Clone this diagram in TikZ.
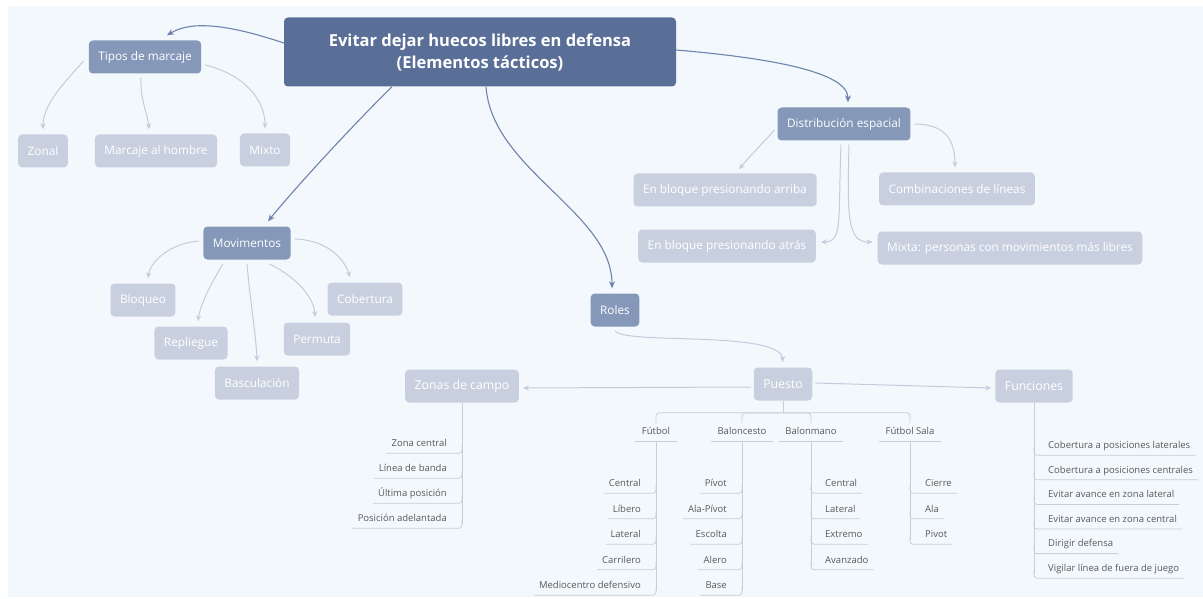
\documentclass[tikz,border=0pt]{standalone}
\usepackage{fontspec}
\setmainfont{Open Sans}
\usetikzlibrary{arrows.meta,calc}
\definecolor{bgc}{HTML}{F3F8FD}
\definecolor{mainc}{HTML}{5A6F98}
\definecolor{subc}{HTML}{8598B9}
\definecolor{itemc}{HTML}{C8D0E0}
\definecolor{linkc}{HTML}{6E84AC}
\definecolor{sublinkc}{HTML}{C4CCDC}
\definecolor{treec}{HTML}{C9CED6}
\definecolor{leaftext}{HTML}{595959}
\begin{document}
\begin{tikzpicture}[x=1pt,y=-1pt,
  topic/.style={fill=mainc,text=white,rounded corners=4pt,minimum width=392pt,minimum height=69pt,align=center,font=\fontsize{16.5}{22}\selectfont\bfseries},
  branch/.style={fill=subc,text=white,rounded corners=4pt,minimum height=33pt,inner xsep=9.5pt,font=\fontsize{11.8}{13}\selectfont},
  item/.style={branch,fill=itemc},
  hub/.style={item,font=\fontsize{12.3}{15}\selectfont},
  leaf/.style={text=leaftext,inner xsep=5pt,inner ysep=4.5pt,text height=7pt,text depth=2pt,font=\fontsize{9.5}{11}\selectfont},
  sport/.style={leaf,inner xsep=6.5pt},
  link/.style={draw=linkc,line width=1.1pt,-{Stealth[length=7pt,width=6pt]}},
  sublink/.style={draw=sublinkc,line width=1pt,-{Stealth[length=6pt,width=5pt]}},
  tree/.style={draw=treec,line width=0.8pt,rounded corners=3pt}]
\useasboundingbox (0,0) rectangle (1203,599);
\fill[bgc] (8,6) rectangle (1203,597);

% central topic
\node[topic] (main) at (480,52) {Evitar dejar huecos libres en defensa\\(Elementos tácticos)};

% main branches
\node[branch] (tipos) at (145,57) {Tipos de marcaje};
\node[branch] (dist) at (844,124) {Distribución espacial};
\node[branch] (mov) at (247,243) {Movimentos};
\node[branch] (roles) at (615,310) {Roles};

% tipos de marcaje
\node[item] (zonal) at (43,151) {Zonal};
\node[item] (hombre) at (156,151) {Marcaje al hombre};
\node[item] (mixto) at (265,150) {Mixto};

% distribucion espacial
\node[item] (arriba) at (725,190) {En bloque presionando arriba};
\node[item] (atras) at (727,246) {En bloque presionando atrás};
\node[item] (lineas) at (957,189) {Combinaciones de líneas};
\node[item] (mixta) at (1010,248) {Mixta: personas con movimientos más libres};

% movimientos
\node[item] (bloq) at (143,300) {Bloqueo};
\node[item] (repl) at (191,343) {Repliegue};
\node[item] (bascu) at (257,383) {Basculación};
\node[item] (perm) at (317,339) {Permuta};
\node[item] (cobe) at (365,299) {Cobertura};

% roles
\node[hub] (puesto) at (783,384) {Puesto};
\node[hub] (zonas) at (462,386) {Zonas de campo};
\node[hub] (func) at (1034,386) {Funciones};

% links from the central topic
\draw[link] ([yshift=9pt]main.west) .. controls (230,25) and (192,20) .. ([xshift=22pt,yshift=5pt]tipos.north);
\draw[link] ([yshift=2pt]main.east) .. controls (770,58) and (848,72) .. ([xshift=4pt,yshift=5pt]dist.north);
\draw[link] ([xshift=-88pt]main.south) .. controls (360,118) and (300,182) .. ([xshift=21pt,yshift=5pt]mov.north);
\draw[link] ([xshift=6pt]main.south) .. controls (492,170) and (612,212) .. ([xshift=-3pt,yshift=5pt]roles.north);

% second level links
\draw[sublink] ([xshift=-5pt,yshift=-4pt]tipos.west) .. controls (62,85) and (43,105) .. ([yshift=5pt]zonal.north);
\draw[sublink] ([xshift=-4pt,yshift=-4pt]tipos.south) .. controls (140,100) and (148,115) .. ([xshift=-7pt,yshift=5pt]hombre.north);
\draw[sublink] ([xshift=4pt,yshift=-8pt]tipos.east) .. controls (245,75) and (265,100) .. ([yshift=5pt]mixto.north);
\draw[sublink] ([xshift=-3pt,yshift=-6pt]dist.west) .. controls (764,142) and (748,158) .. ([xshift=14pt,yshift=4pt]arriba.north);
\draw[sublink] ([xshift=-3pt,yshift=-4pt]dist.south) .. controls (838,220) and (843,242) .. ([xshift=5pt,yshift=4pt]atras.east);
\draw[sublink] ([xshift=5pt,yshift=-4pt]dist.south) .. controls (847,220) and (848,242) .. ([xshift=-5pt,yshift=6pt]mixta.west);
\draw[sublink] ([xshift=4pt]dist.east) .. controls (945,124) and (955,140) .. ([xshift=-2pt,yshift=5pt]lineas.north);
\draw[sublink] ([xshift=-4pt,yshift=2pt]mov.west) .. controls (170,243) and (150,262) .. ([xshift=5pt,yshift=5pt]bloq.north);
\draw[sublink] ([xshift=-24pt,yshift=-4pt]mov.south) .. controls (212,282) and (200,305) .. ([xshift=7pt,yshift=5pt]repl.north);
\draw[sublink] ([yshift=-4pt]mov.south) .. controls (250,300) and (256,335) .. ([yshift=5pt]bascu.north);
\draw[sublink] ([xshift=22pt,yshift=-4pt]mov.south) .. controls (298,278) and (314,298) .. ([xshift=-2pt,yshift=5pt]perm.north);
\draw[sublink] ([xshift=4pt,yshift=4pt]mov.east) .. controls (328,240) and (345,260) .. ([xshift=-15pt,yshift=5pt]cobe.north);
\draw[sublink] ([yshift=-4pt]roles.south) .. controls (622,345) and (780,330) .. ([yshift=5pt]puesto.north);
\draw[sublink] ([xshift=-3pt,yshift=-3pt]puesto.west) -- ([xshift=4pt,yshift=-2pt]zonas.east);
\draw[sublink] ([xshift=3pt,yshift=1pt]puesto.east) -- ([xshift=-4pt,yshift=-2pt]func.west);

% puesto: sports
\node[sport] (fut) at (656,432) {Fútbol};
\node[sport] (balc) at (742,432) {Baloncesto};
\node[sport] (balm) at (811,432) {Balonmano};
\node[sport] (sala) at (910,432) {Fútbol Sala};
\coordinate (fork) at (783,413);
\draw[tree] (puesto.south) -- (fork);
\draw[tree] (fut.north) -- ++(0,-10) -| (sala.north);
\draw[tree] (fork) -| (balc.north);
\draw[tree] (fork) -| (balm.north);
\foreach \s in {fut,balc,balm,sala}
  \draw[tree] (\s.south west) -- (\s.south east);

\foreach \t [count=\i] in {Central,Líbero,Lateral,Carrilero,Mediocentro defensivo}{
  \node[leaf,anchor=east] (fut\i) at (646,458.5+25.5*\i) {\t};
  \draw[tree] (fut\i.south west) -| ($(fut\i.south west -| fut.south)+(0,-8)$);
}
\draw[tree] (fut.south) -- ($(fut5.south -| fut.south)+(0,-4)$);

\foreach \t [count=\i] in {Pívot,Ala-Pívot,Escolta,Alero,Base}{
  \node[leaf,anchor=east] (balc\i) at (732,458.5+25.5*\i) {\t};
  \draw[tree] (balc\i.south west) -| ($(balc\i.south west -| balc.south)+(0,-8)$);
}
\draw[tree] (balc.south) -- ($(balc5.south -| balc.south)+(0,-4)$);

\foreach \t [count=\i] in {Central,Lateral,Extremo,Avanzado}{
  \node[leaf,anchor=west] (balm\i) at (820,458.5+25.5*\i) {\t};
  \draw[tree] ($(balm\i.south east -| balm.south)+(0,-8)$) |- (balm\i.south east);
}
\draw[tree] (balm.south) -- ($(balm4.south -| balm.south)+(0,-4)$);

\foreach \t [count=\i] in {Cierre,Ala,Pivot}{
  \node[leaf,anchor=west] (sala\i) at (920,458.5+25.5*\i) {\t};
  \draw[tree] ($(sala\i.south east -| sala.south)+(0,-8)$) |- (sala\i.south east);
}
\draw[tree] (sala.south) -- ($(sala3.south -| sala.south)+(0,-4)$);

% zonas de campo
\foreach \t [count=\i] in {Zona central,Línea de banda,Última posición,Posición adelantada}{
  \node[leaf,anchor=east] (zc\i) at (452,419+25*\i) {\t};
  \draw[tree] (zc\i.south west) -| ($(zc\i.south west -| zonas.south)+(0,-8)$);
}
\draw[tree] (zonas.south) -- ($(zc4.south -| zonas.south)+(0,-4)$);

% funciones
\foreach \t [count=\i] in {Cobertura a posiciones laterales,Cobertura a posiciones centrales,Evitar avance en zona lateral,Evitar avance en zona central,Dirigir defensa,Vigilar línea de fuera de juego}{
  \node[leaf,anchor=west] (fn\i) at (1043,421.4+24.6*\i) {\t};
  \draw[tree] ($(fn\i.south east -| func.south)+(0,-8)$) |- (fn\i.south east);
}
\draw[tree] (func.south) -- ($(fn6.south -| func.south)+(0,-4)$);
\end{tikzpicture}
\end{document}
